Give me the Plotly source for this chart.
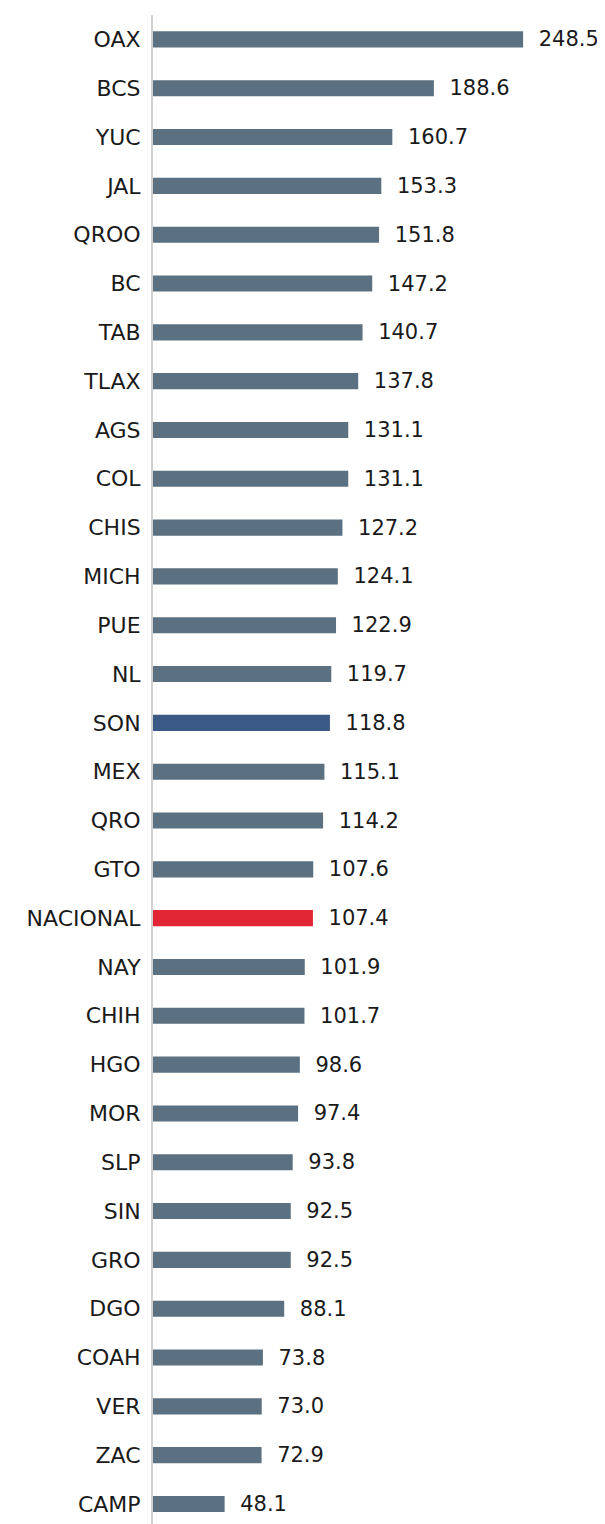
import plotly.graph_objects as go

states = ["OAX", "BCS", "YUC", "JAL", "QROO", "BC", "TAB", "TLAX", "AGS", "COL",
          "CHIS", "MICH", "PUE", "NL", "SON", "MEX", "QRO", "GTO", "NACIONAL", "NAY",
          "CHIH", "HGO", "MOR", "SLP", "SIN", "GRO", "DGO", "COAH", "VER", "ZAC", "CAMP"]
values = [248.5, 188.6, 160.7, 153.3, 151.8, 147.2, 140.7, 137.8, 131.1, 131.1,
          127.2, 124.1, 122.9, 119.7, 118.8, 115.1, 114.2, 107.6, 107.4, 101.9,
          101.7, 98.6, 97.4, 93.8, 92.5, 92.5, 88.1, 73.8, 73.0, 72.9, 48.1]

base_color = "#5b7080"
highlight = {"SON": "#3a5a85", "NACIONAL": "#e32636"}
colors = [highlight.get(s, base_color) for s in states]
labels = ["\u2009\u2009\u2009" + f"{v:.1f}" for v in values]

fig = go.Figure()
fig.add_trace(go.Bar(
    x=values, y=states, orientation="h",
    marker=dict(color=colors, line=dict(width=0)),
    text=labels, textposition="outside", cliponaxis=False,
    constraintext="none",
    textfont=dict(size=21, color="#1a1a1a", family="DejaVu Sans"),
    width=0.33,
))

fig.update_layout(
    width=597, height=1516,
    margin=dict(l=145, r=0, t=6.6, b=0, autoexpand=False),
    paper_bgcolor="white", plot_bgcolor="white",
    showlegend=False,
    font=dict(family="DejaVu Sans", size=21, color="#1a1a1a"),
)
fig.update_xaxes(range=[0, 303.5], visible=False, showgrid=False, zeroline=False,
                 automargin=False)
fig.update_yaxes(
    type="category", categoryorder="array", categoryarray=states,
    range=[30.41, -0.5], showgrid=False, zeroline=False, automargin=False,
    showline=True, linecolor="#d0d0d0", linewidth=2,
    ticks="", ticklabelstandoff=6,
    tickfont=dict(size=22, family="DejaVu Sans", color="#1a1a1a"),
)

fig.write_html("out.html")
